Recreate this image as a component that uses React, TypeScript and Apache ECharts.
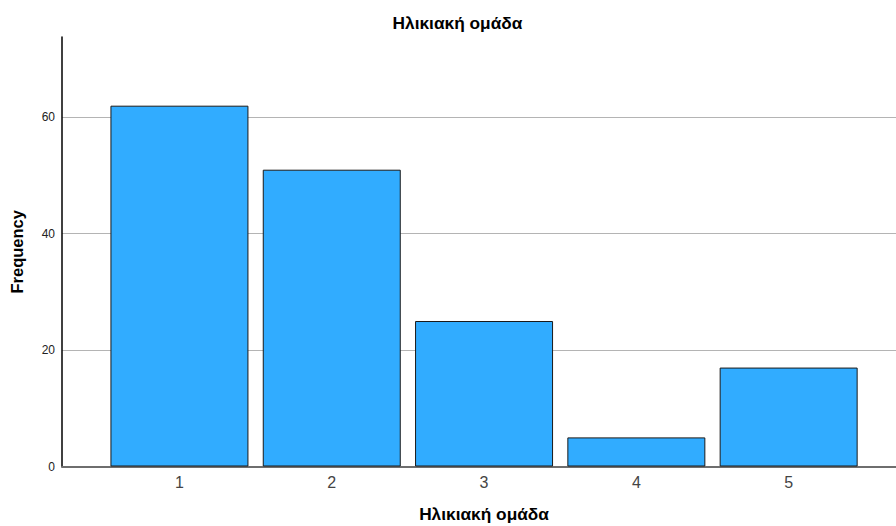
import React, { useEffect, useRef } from "react";
import * as echarts from "echarts";

const categories = ["1", "2", "3", "4", "5"];
const frequencies = [62, 51, 25, 5, 17];
const yTicks = [0, 20, 40, 60];
const yMax = 73.8;
const titleText = "Ηλικιακή ομάδα";
const xAxisTitle = "Ηλικιακή ομάδα";
const yAxisTitle = "Frequency";

export default function App() {
  const ref = useRef<HTMLDivElement>(null);
  useEffect(() => {
    document.body.style.margin = "0";
    const chart = echarts.init(ref.current!, null, { renderer: "svg" });
    const font = "Liberation Sans, Arial, sans-serif";
    chart.setOption({
      animation: false,
      backgroundColor: "#ffffff",
      title: {
        text: titleText,
        left: 452.5,
        top: 9.5,
        textAlign: "center",
        textStyle: { fontFamily: font, fontSize: 17.3, fontWeight: "bold", color: "#000" },
      },
      grid: [
        { left: 62, top: 37, right: 0, bottom: 59.5, containLabel: false, outerBoundsMode: "none" },
        { left: 103.3, top: 37, right: 31.2, bottom: 59.5, containLabel: false, outerBoundsMode: "none" },
      ],
      xAxis: [
        {
          type: "value",
          gridIndex: 0,
          min: 0,
          max: 1,
          axisLine: { show: true, onZero: false, lineStyle: { color: "#6e6e6e", width: 2 } },
          axisTick: { show: false },
          axisLabel: { show: false },
          splitLine: { show: false },
        },
        {
          type: "category",
          gridIndex: 1,
          data: categories,
          axisLine: { show: false },
          axisTick: { show: false },
          axisLabel: { fontFamily: font, fontSize: 16, color: "#444", margin: 8 },
          name: xAxisTitle,
          nameLocation: "middle",
          nameGap: 39,
          nameTextStyle: { fontFamily: font, fontSize: 17.3, fontWeight: "bold", color: "#000" },
        },
      ],
      yAxis: [
        {
          type: "value",
          gridIndex: 0,
          min: 0,
          max: yMax,
          interval: 20,
          axisLine: { show: true, lineStyle: { color: "#000", width: 1.5 } },
          axisTick: { show: false },
          axisLabel: {
            fontFamily: font,
            fontSize: 12,
            color: "#222",
            margin: 7,
            formatter: (v: number) => (yTicks.includes(v) ? String(v) : ""),
          },
          splitLine: {
            show: true,
            lineStyle: { color: ["#b4b4b4", "#b4b4b4", "#b4b4b4", "#b4b4b4", "rgba(0,0,0,0)"], width: 1 },
          },
          name: yAxisTitle,
          nameLocation: "middle",
          nameGap: 37,
          nameTextStyle: { fontFamily: font, fontSize: 16.5, fontWeight: "bold", color: "#000" },
        },
        {
          type: "value",
          gridIndex: 1,
          min: 0,
          max: yMax,
          show: false,
        },
      ],
      series: [
        {
          type: "bar",
          xAxisIndex: 1,
          yAxisIndex: 1,
          data: frequencies,
          barWidth: 138,
          itemStyle: { color: "#31acff", borderColor: "#1a1a1a", borderWidth: 1 },
          z: 3,
        },
      ],
    });
    return () => chart.dispose();
  }, []);
  return <div ref={ref} style={{ width: 896, height: 526 }} />;
}
